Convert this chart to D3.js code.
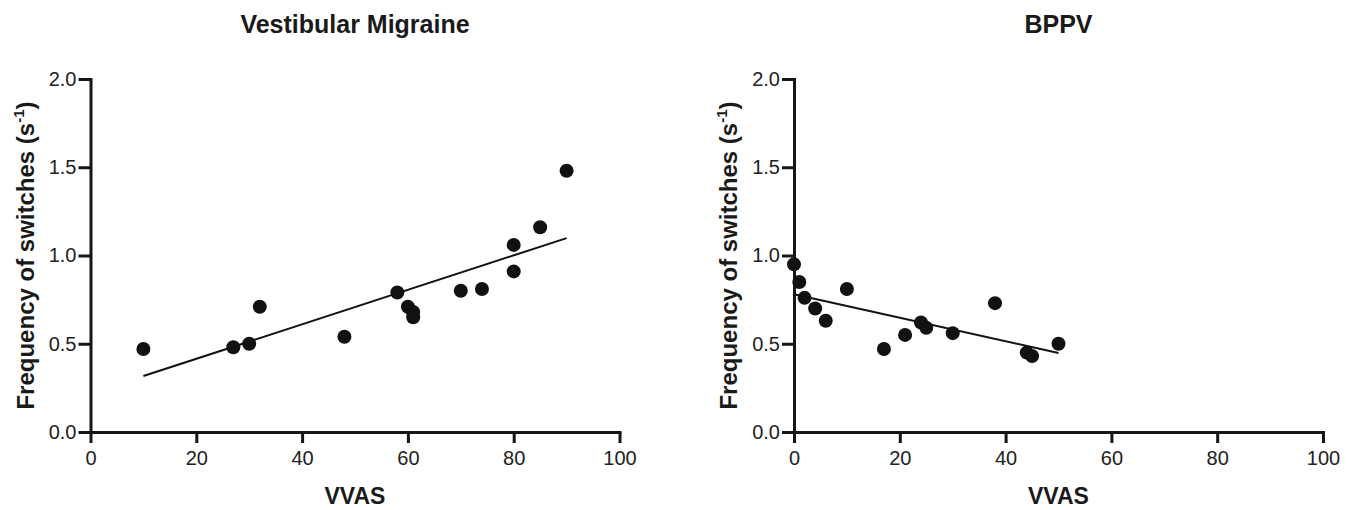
<!DOCTYPE html>
<html>
<head>
<meta charset="utf-8">
<script src="https://cdn.jsdelivr.net/npm/d3@7"></script>
<style>
  body { margin: 0; background: #fff; }
  svg { display: block; font-family: "Liberation Sans", Arial, sans-serif; }
  .axis path, .axis line { stroke: #161616; stroke-width: 3px; }
  .axis text { font-size: 20px; fill: #222; }
</style>
</head>
<body>
<svg id="chart" width="1358" height="510"></svg>
<script>
// values
const vmVvas = [10, 27, 30, 32, 48, 58, 60, 61, 61, 70, 74, 80, 80, 85, 90]
const vmFreq = [0.47, 0.48, 0.50, 0.71, 0.54, 0.79, 0.71, 0.68, 0.65, 0.80, 0.81, 1.06, 0.91, 1.16, 1.48]

const bppvVvas = [0, 1, 2, 4, 6, 10, 17, 21, 24, 25, 30, 38, 44, 45, 50]
const bppvFreq = [0.95, 0.85, 0.76, 0.70, 0.63, 0.81, 0.47, 0.55, 0.62, 0.59, 0.56, 0.73, 0.45, 0.43, 0.50]

const xTicks = [0, 20, 40, 60, 80, 100]
const yTicks = [0.0, 0.5, 1.0, 1.5, 2.0]

const panels = [
  { title: 'Vestibular Migraine', xs: vmVvas, ys: vmFreq, left: 90.5 },
  { title: 'BPPV', xs: bppvVvas, ys: bppvFreq, left: 794 },
]

const svg = d3.select('#chart')
const plotW = 529
const plotTop = 79, plotBottom = 432

// least squares line
function fit(xs, ys) {
  const mx = d3.mean(xs), my = d3.mean(ys)
  let sxy = 0, sxx = 0
  xs.forEach((x, i) => {
    sxy += (x - mx) * (ys[i] - my)
    sxx += (x - mx) * (x - mx)
  })
  const slope = sxy / sxx
  return { slope, intercept: my - slope * mx }
}

panels.forEach((p) => {
  const x = d3.scaleLinear().domain([0, 100]).range([p.left, p.left + plotW])
  const y = d3.scaleLinear().domain([0, 2]).range([plotBottom, plotTop])
  const g = svg.append('g')

  g.append('g')
    .attr('class', 'axis')
    .attr('transform', `translate(0,${plotBottom})`)
    .call(d3.axisBottom(x).tickValues(xTicks).tickSize(11).tickSizeOuter(0).tickPadding(8).tickFormat(d3.format('d')))

  g.append('g')
    .attr('class', 'axis')
    .attr('transform', `translate(${p.left},0)`)
    .call(d3.axisLeft(y).tickValues(yTicks).tickSize(12).tickSizeOuter(0).tickPadding(2).tickFormat(d3.format('.1f')))

  g.selectAll('.axis path').attr('stroke-linecap', 'square')

  // regression line over the data range
  const f = fit(p.xs, p.ys)
  const x0 = d3.min(p.xs), x1 = d3.max(p.xs)
  g.append('line')
    .attr('x1', x(x0)).attr('y1', y(f.intercept + f.slope * x0))
    .attr('x2', x(x1)).attr('y2', y(f.intercept + f.slope * x1))
    .attr('stroke', '#111')
    .attr('stroke-width', 2)

  g.selectAll('circle')
    .data(p.xs.map((v, i) => [v, p.ys[i]]))
    .join('circle')
    .attr('cx', (d) => x(d[0]))
    .attr('cy', (d) => y(d[1]))
    .attr('r', 7)
    .attr('fill', '#111')

  g.append('text')
    .attr('x', p.left + plotW / 2)
    .attr('y', 33)
    .attr('text-anchor', 'middle')
    .attr('font-size', 25)
    .attr('font-weight', 'bold')
    .attr('fill', '#1a1a1a')
    .text(p.title)

  g.append('text')
    .attr('x', p.left + plotW / 2)
    .attr('y', 504)
    .attr('text-anchor', 'middle')
    .attr('font-size', 23)
    .attr('font-weight', 'bold')
    .attr('fill', '#1a1a1a')
    .text('VVAS')

  const yl = g.append('text')
    .attr('transform', `translate(${p.left - 57},${(plotTop + plotBottom) / 2}) rotate(-90)`)
    .attr('text-anchor', 'middle')
    .attr('font-size', 24)
    .attr('font-weight', 'bold')
    .attr('fill', '#1a1a1a')
  yl.append('tspan').text('Frequency of switches (s')
  yl.append('tspan').attr('font-size', 15).attr('dy', -10).text('-1')
  yl.append('tspan').attr('dy', 10).text(')')
})
</script>
</body>
</html>
